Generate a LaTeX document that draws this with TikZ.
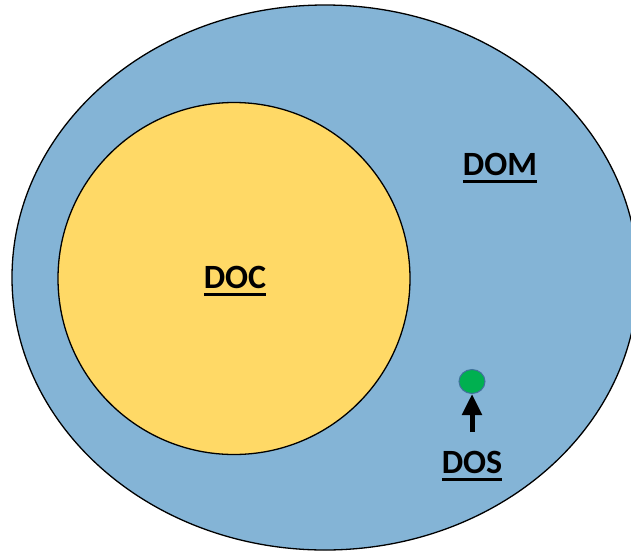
\documentclass[tikz,border=0pt]{standalone}
\usepackage{fontspec}
\setmainfont{Carlito}
\usetikzlibrary{arrows.meta,shapes.geometric}
\definecolor{domblue}{HTML}{84B4D6}
\definecolor{docgold}{HTML}{FFD966}
\definecolor{dosgreen}{HTML}{00B050}
\definecolor{dosedge}{HTML}{41719C}
\tikzset{
  region/.style={draw=black, line width=1.3pt},
  spot/.style={draw=dosedge, fill=dosgreen, line width=1pt, ellipse, inner sep=0pt, minimum width=26pt, minimum height=24pt},
  tag/.style={font=\fontsize{34}{38}\selectfont\bfseries, inner sep=0pt, anchor=base},
  pointer/.style={line width=5pt, -{Triangle[length=21pt,width=19pt]}}
}
% bold label with a heavy rule beneath it
\newcommand{\ulabel}[1]{\vtop{\hbox{#1}\kern4.5pt\hrule height 2.4pt}}
\begin{document}
\begin{tikzpicture}[x=1pt,y=-1pt]
  \useasboundingbox (0,0) rectangle (631,552);
  \clip (0,0) rectangle (631,552);
  % outer domain and inner circle
  \draw[region, fill=domblue] (325,277.5) ellipse [x radius=313, y radius=272.5];
  \draw[region, fill=docgold] (234,278.5) circle [radius=176];
  % small green spot and the arrow pointing at it
  \node[spot] (dosdot) at (472,381.5) {};
  \coordinate (tail) at (472,432);
  \draw[pointer] (tail) -- (dosdot.south);
  % labels
  \node[tag] (dom) at (500,175.5) {\ulabel{DOM}};
  \node[tag] (doc) at (235,288.5) {\ulabel{DOC}};
  \node[tag] (dos) at (472,473.5) {\ulabel{DOS}};
\end{tikzpicture}
\end{document}
